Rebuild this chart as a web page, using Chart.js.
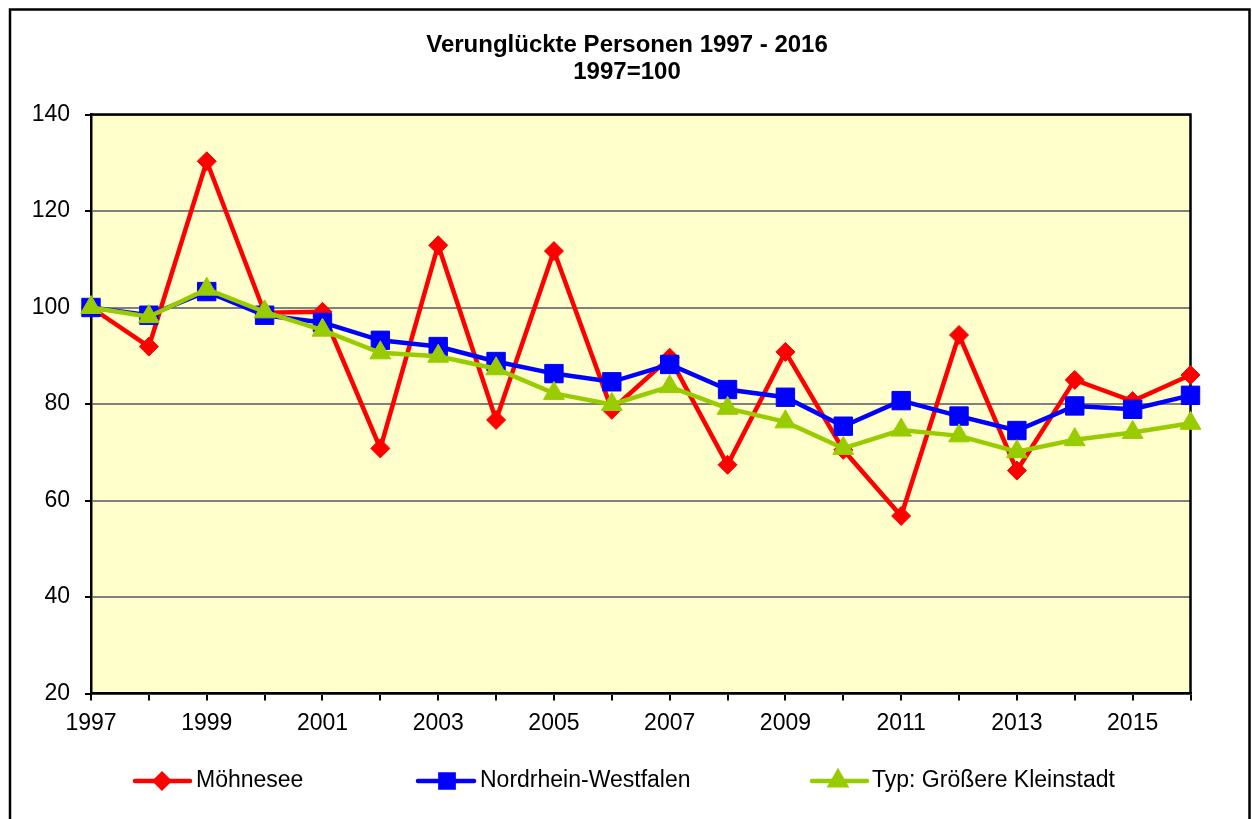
<!DOCTYPE html>
<html>
<head>
<meta charset="utf-8">
<script src="https://cdn.jsdelivr.net/npm/chart.js@4/dist/chart.umd.min.js"></script>
<style>
  html, body { margin: 0; padding: 0; background: #ffffff; }
  #wrap { width: 1252px; height: 819px; position: relative; }
</style>
</head>
<body>
<div id="wrap"><canvas id="c" width="1252" height="819"></canvas></div>
<script>
const years = ['1997','1998','1999','2000','2001','2002','2003','2004','2005','2006','2007','2008','2009','2010','2011','2012','2013','2014','2015','2016'];
const moehnesee = [100, 91.9, 130.3, 98.9, 99.1, 70.8, 112.9, 76.7, 111.7, 78.8, 89.6, 67.4, 90.8, 70.5, 56.8, 94.3, 66.2, 85.0, 80.6, 86.0];
const nrw = [100, 98.4, 103.3, 98.4, 96.9, 93.2, 91.9, 88.8, 86.3, 84.6, 88.2, 83.0, 81.4, 75.4, 80.7, 77.5, 74.5, 79.6, 78.9, 81.8];
const kleinstadt = [100, 98.1, 103.8, 99.1, 95.3, 90.6, 89.9, 87.3, 82.2, 79.9, 83.6, 79.1, 76.3, 70.8, 74.6, 73.4, 70.1, 72.6, 74.1, 76.0];
const seriesNames = ['Möhnesee', 'Nordrhein-Westfalen', 'Typ: Größere Kleinstadt'];
const titleLines = ['Verunglückte Personen 1997 - 2016', '1997=100'];
const yTicks = { min: 20, max: 140, step: 20 };

const FONT = '"Liberation Sans", Arial, sans-serif';
const colors = ['#FF0000', '#0000FF', '#99CC00'];
const styles = [
  { pointStyle: 'rectRot', radius: 9.5 },
  { pointStyle: 'rect', radius: 13 },
  { pointStyle: 'triangle', radius: 12 }
];

const framePlugin = {
  id: 'frame',
  beforeDraw(chart) {
    const ctx = chart.ctx, a = chart.chartArea;
    ctx.save();
    ctx.fillStyle = '#ffffff';
    ctx.fillRect(0, 0, chart.width, chart.height);
    ctx.fillStyle = '#FFFFCC';
    ctx.fillRect(a.left, a.top, a.right - a.left, a.bottom - a.top);
    // outer border
    ctx.strokeStyle = '#000';
    ctx.lineWidth = 2.5;
    ctx.strokeRect(10, 9.5, 1239.5, 840);
    // title
    ctx.fillStyle = '#000';
    ctx.textAlign = 'center';
    ctx.textBaseline = 'alphabetic';
    ctx.font = 'bold 24px ' + FONT;
    ctx.fillText(titleLines[0], 627, 52);
    ctx.fillText(titleLines[1], 627, 79);
    ctx.restore();
  },
  beforeDatasetsDraw(chart) {
    const ctx = chart.ctx, a = chart.chartArea;
    ctx.save();
    ctx.strokeStyle = '#000';
    ctx.lineWidth = 2.5;
    ctx.beginPath();
    ctx.moveTo(a.left, a.top);
    ctx.lineTo(a.right, a.top);
    ctx.lineTo(a.right, a.bottom);
    ctx.stroke();
    ctx.restore();
  },
  afterDraw(chart) {
    const ctx = chart.ctx;
    const items = [
      { x0: 135, x1: 190, mx: 162, tx: 196 },
      { x0: 418, x1: 474, mx: 447, tx: 480 },
      { x0: 812, x1: 867, mx: 838, tx: 872 }
    ];
    const y = 781;
    ctx.save();
    items.forEach((it, i) => {
      ctx.strokeStyle = colors[i];
      ctx.lineWidth = 4.5;
      ctx.lineCap = 'round';
      ctx.beginPath();
      ctx.moveTo(it.x0, y);
      ctx.lineTo(it.x1, y);
      ctx.stroke();
      ctx.fillStyle = colors[i];
      Chart.helpers.drawPoint(ctx, {
        pointStyle: styles[i].pointStyle,
        radius: styles[i].radius * 0.72,
        borderWidth: 1,
        rotation: 0
      }, it.mx, y);
      ctx.fill();
      ctx.fillStyle = '#000';
      ctx.font = '23px ' + FONT;
      ctx.textAlign = 'left';
      ctx.textBaseline = 'middle';
      ctx.fillText(seriesNames[i], it.tx, y);
    });
    ctx.restore();
  }
};

function makeDataset(label, data, i, order) {
  return {
    label: label,
    data: data,
    borderColor: colors[i],
    backgroundColor: colors[i],
    borderWidth: 4.5,
    pointStyle: styles[i].pointStyle,
    pointRadius: styles[i].radius,
    pointHoverRadius: styles[i].radius,
    pointBorderWidth: 1,
    pointBorderColor: colors[i],
    pointBackgroundColor: colors[i],
    tension: 0,
    fill: false,
    clip: false,
    order: order
  };
}

new Chart(document.getElementById('c'), {
  type: 'line',
  data: {
    labels: years,
    datasets: [
      makeDataset(seriesNames[0], moehnesee, 0, 2),
      makeDataset(seriesNames[1], nrw, 1, 1),
      makeDataset(seriesNames[2], kleinstadt, 2, 0)
    ]
  },
  options: {
    responsive: false,
    animation: false,
    devicePixelRatio: 1,
    layout: { padding: { left: 0, right: 61.5, top: 114.5, bottom: 85.5 } },
    plugins: {
      legend: { display: false },
      title: { display: false },
      tooltip: { enabled: false }
    },
    scales: {
      x: {
        offset: false,
        afterFit(scale) { scale.height = 40; },
        grid: { drawOnChartArea: false, drawTicks: true, tickLength: 7, tickColor: '#000', lineWidth: 2 },
        border: { display: true, color: '#000', width: 2.5 },
        ticks: {
          autoSkip: false,
          maxRotation: 0,
          minRotation: 0,
          padding: 9,
          color: '#000',
          font: { family: FONT, size: 23 },
          callback: function(v, i) { return i % 2 === 0 ? years[i] : ''; }
        }
      },
      y: {
        min: yTicks.min,
        max: yTicks.max,
        afterFit(scale) { scale.width = 91; },
        grid: { color: '#808080', lineWidth: 2, drawTicks: true, tickLength: 6, tickColor: '#000', tickWidth: 2 },
        border: { display: true, color: '#000', width: 2.5 },
        ticks: {
          stepSize: yTicks.step,
          padding: 15,
          color: '#000',
          font: { family: FONT, size: 23 }
        }
      }
    }
  },
  plugins: [framePlugin]
});
</script>
</body>
</html>
